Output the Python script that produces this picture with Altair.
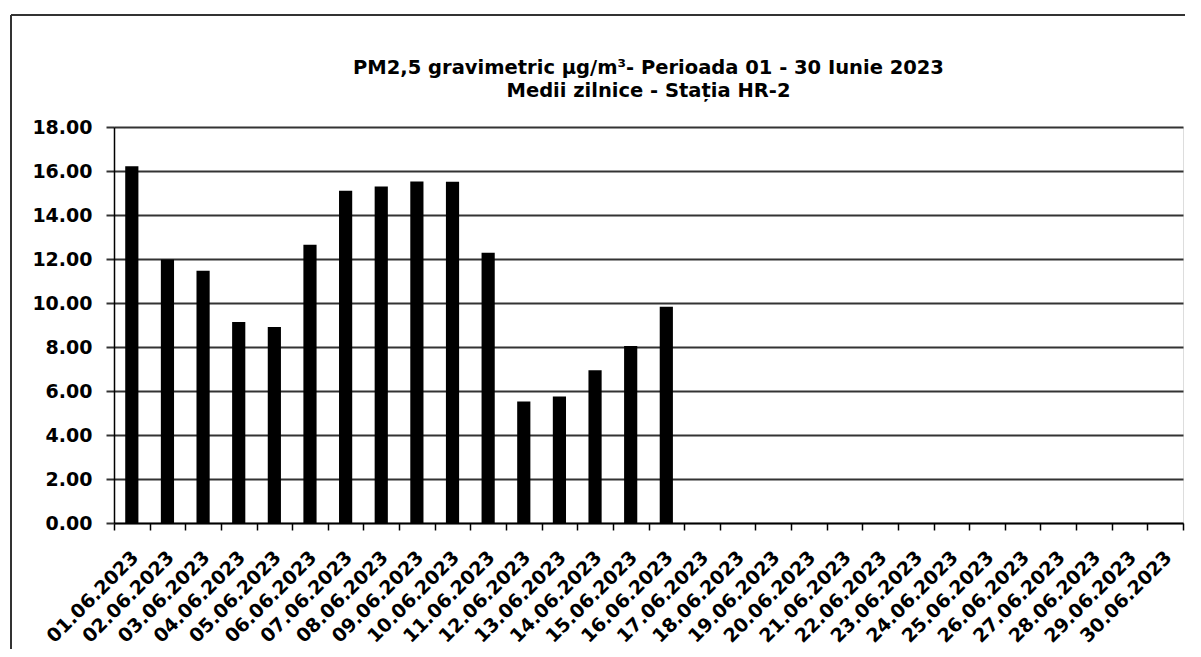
import altair as alt
import pandas as pd

dates = [f"{d:02d}.06.2023" for d in range(1, 31)]
values = [16.22, 11.98, 11.47, 9.14, 8.91, 12.65, 15.10, 15.30, 15.52, 15.51,
          12.28, 5.52, 5.75, 6.94, 8.05, 9.83]
y_ticks = [0, 2, 4, 6, 8, 10, 12, 14, 16, 18]
title_lines = ["PM2,5 gravimetric µg/m³- Perioada 01 - 30 Iunie 2023",
               "Medii zilnice - Stația HR-2"]

df = pd.DataFrame({"data": dates[:len(values)], "valoare": values})

FONT = "DejaVu Sans"
W, H = 1069, 396

bars = alt.Chart(df).mark_bar(color="black", width=alt.RelativeBandSize(0.37)).encode(
    x=alt.X("data:N", scale=alt.Scale(domain=dates, paddingInner=0, paddingOuter=0),
            sort=None,
            axis=alt.Axis(title=None, labelAngle=-45, labelAlign="right", labelBaseline="middle",
                          labelFont=FONT, labelFontWeight="bold", labelFontSize=19,
                          labelColor="black", labelPadding=24, labelOffset=3,
                          tickBand="extent",
                          tickSize=7, tickColor="black", tickWidth=1.5,
                          domainColor="black", domainWidth=1.5, grid=False,
                          labelOverlap=False)),
    y=alt.Y("valoare:Q", scale=alt.Scale(domain=[0, 18], nice=False),
            axis=alt.Axis(title=None, values=y_ticks, format=".2f",
                          labelFont=FONT, labelFontWeight="bold", labelFontSize=19,
                          labelColor="black", labelPadding=14,
                          tickSize=8, tickColor="#333333", tickWidth=2,
                          domainColor="black", domainWidth=1.5,
                          grid=True, gridColor="#333333", gridWidth=2)),
)

frame_df = pd.DataFrame({"k": [0]})
left_line = alt.Chart(frame_df).mark_rule(color="#333333", strokeWidth=2).encode(
    x=alt.value(-103), y=alt.value(-112), y2=alt.value(522))
top_line = alt.Chart(frame_df).mark_rule(color="#333333", strokeWidth=2).encode(
    x=alt.value(-103), x2=alt.value(1071), y=alt.value(-112))

chart = alt.layer(bars, left_line, top_line).properties(
    width=W, height=H,
    autosize=alt.AutoSizeParams(type="none"),
    padding={"left": 106, "top": 119, "right": 2, "bottom": 126},
    title=alt.TitleParams(text=title_lines, font=FONT, fontSize=19.5, fontWeight="bold",
                          color="black", anchor="middle", offset=-87, lineHeight=23),
).configure_view(stroke=None).configure(background="white")

chart.save("out.html", embed_options={"renderer": "svg", "actions": False})
